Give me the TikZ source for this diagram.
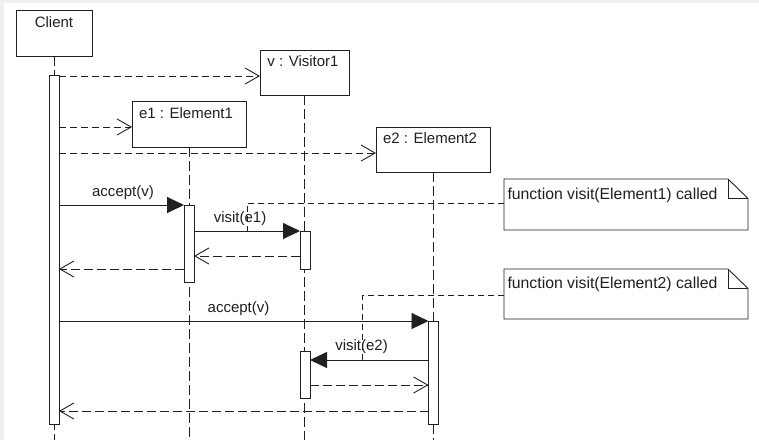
\documentclass[tikz,border=0pt]{standalone}
\usepackage{fontspec}
\setmainfont{Liberation Sans}
\usetikzlibrary{arrows.meta}
\definecolor{bgframe}{HTML}{F1EFED}
\definecolor{ink}{HTML}{202020}
\tikzset{
  x=1pt, y=-1pt,
  every node/.style={font=\fontsize{15}{18}\selectfont, text=ink, inner sep=0pt, outer sep=0pt},
  headbox/.style={draw=ink, line width=0.9pt, fill=white, rectangle},
  actbar/.style={draw=ink, line width=0.9pt, fill=white, rectangle, minimum width=10pt},
  lifeline/.style={draw=ink, line width=0.9pt, dash pattern=on 10pt off 4pt},
  createmsg/.style={draw=ink, line width=0.9pt, dash pattern=on 7pt off 4pt, -{Straight Barb[length=14pt,width=16pt,line width=0.9pt]}},
  returnmsg/.style={draw=ink, line width=0.9pt, dash pattern=on 9pt off 4pt, -{Straight Barb[length=14pt,width=16pt,line width=0.9pt]}},
  callmsg/.style={draw=ink, line width=0.9pt, -{Triangle[length=17pt,width=16pt]}},
  noteanchor/.style={draw=ink, line width=0.9pt, dash pattern=on 6pt off 4pt},
  notebox/.style={draw=ink, line width=0.9pt},
  notetext/.style={anchor=base west, font=\fontsize{15.8}{18}\selectfont},
  lbl/.style={anchor=base},
}
\begin{document}
\begin{tikzpicture}
\useasboundingbox (0,0) rectangle (759,440);
\fill[bgframe] (0,0) rectangle (759,440);
\fill[white] (4,3) rectangle (759,440);

% heads
\node[headbox, minimum width=76pt, minimum height=46pt] (client) at (54,33) {};
\node[lbl] (clientT) at (54,27) {Client};
\node[headbox, minimum width=89pt, minimum height=45pt] (vis) at (304.5,72.5) {};
\node[lbl] (visT) at (303,66) {v : Visitor1};
\node[headbox, minimum width=114pt, minimum height=46pt] (ea) at (189,124) {};
\node[lbl] (eaT) at (186,118) {e1 : Element1};
\node[headbox, minimum width=114pt, minimum height=45pt] (eb) at (433,149.5) {};
\node[lbl] (ebT) at (430,143.5) {e2 : Element2};

% lifeline ends
\coordinate (clientEnd) at (54,440);
\coordinate (visEnd) at (304.5,440);
\coordinate (eaEnd) at (189,440);
\coordinate (ebEnd) at (433,440);
\draw[lifeline] (client.south) -- (clientEnd);
\draw[lifeline] (vis.south) -- (visEnd);
\draw[lifeline] (ea.south) -- (eaEnd);
\draw[lifeline] (eb.south) -- (ebEnd);

% activation bars
\node[actbar, minimum height=349pt] (cbar) at (54,249.5) {};
\node[actbar, minimum height=77pt] (eabar) at (189,243.5) {};
\node[actbar, minimum height=38pt] (vbarA) at (305,250) {};
\node[actbar, minimum height=47pt] (vbarB) at (305,374.5) {};
\node[actbar, minimum height=103pt] (ebbar) at (433.5,372.5) {};

% notes
\node[minimum width=244pt, minimum height=51pt] (noteA) at (626,204.5) {};
\node[minimum width=244pt, minimum height=50pt] (noteB) at (626,294) {};
\foreach \n in {noteA,noteB}{
  \draw[notebox, fill=white] (\n.north west) -- ([xshift=-20pt]\n.north east) -- ([yshift=-19.5pt]\n.north east) -- (\n.south east) -- (\n.south west) -- cycle;
  \draw[notebox] ([xshift=-20pt]\n.north east) -- ([xshift=-20pt,yshift=-19.5pt]\n.north east) -- ([yshift=-19.5pt]\n.north east);
}
\node[notetext] (noteAT) at (507.5,199) {function visit(Element1) called};
\node[notetext] (noteBT) at (507.5,288.5) {function visit(Element2) called};

% creation messages
\draw[createmsg] (cbar.east |- 0,76) -- (vis.west |- 0,76);
\draw[createmsg] (cbar.east |- 0,127) -- (ea.west |- 0,127);
\draw[createmsg] (cbar.east |- 0,153) -- (eb.west |- 0,153);

% calls and returns
\draw[callmsg] (cbar.east |- 0,205) -- (eabar.west |- 0,205);
\node[lbl] (acc1) at (123,196) {accept(v)};
\draw[callmsg] (eabar.east |- 0,231) -- (vbarA.west |- 0,231);
\node[lbl] (vis1) at (240,222) {visit(e1)};
\draw[returnmsg] (vbarA.west |- 0,256) -- (eabar.east |- 0,256);
\draw[returnmsg] (eabar.west |- 0,269) -- (cbar.east |- 0,269);

\draw[callmsg] (cbar.east |- 0,321) -- (ebbar.west |- 0,321);
\node[lbl] (acc2) at (238.5,312) {accept(v)};
\draw[callmsg] (ebbar.west |- 0,360) -- (vbarB.east |- 0,360);
\node[lbl] (vis2) at (361.5,350) {visit(e2)};
\draw[returnmsg] (vbarB.east |- 0,385) -- (ebbar.west |- 0,385);
\draw[returnmsg] (ebbar.west |- 0,411) -- (cbar.east |- 0,411);

% note anchors
\coordinate (ancA) at (247,231);
\coordinate (ancB) at (362.5,360);
\draw[noteanchor] (noteA.west |- 0,203) -| (ancA);
\draw[noteanchor] (noteB.west |- 0,295) -| (ancB);
\end{tikzpicture}
\end{document}
